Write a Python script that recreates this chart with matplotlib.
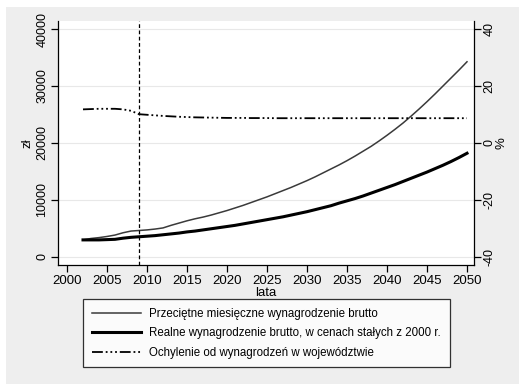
"""Wynagrodzenia brutto - prognoza do 2050 r. (odtworzenie wykresu Stata)."""
import matplotlib
matplotlib.use("Agg")
import matplotlib.pyplot as plt
from matplotlib.patches import Rectangle
from matplotlib.lines import Line2D

plt.rcParams["font.family"] = ["Liberation Sans", "DejaVu Sans"]
plt.rcParams["axes.unicode_minus"] = False

# dane
lata = list(range(2002, 2051))
nominalne = [
    3000, 3250, 3400, 3600, 3850, 4250, 4550, 4650, 4750, 4900,
    5100, 5550, 5950, 6350, 6700, 7000, 7350, 7750, 8150, 8600,
    9050, 9550, 10050, 10550, 11100, 11650, 12200, 12800, 13400, 14050,
    14750, 15450, 16150, 16900, 17700, 18550, 19400, 20350, 21350, 22400,
    23500, 24700, 25950, 27250, 28600, 30000, 31400, 32800, 34250,
]
realne = [
    3000, 3000, 3000, 3050, 3100, 3300, 3450, 3550, 3650, 3750,
    3900, 4050, 4200, 4400, 4550, 4750, 4950, 5150, 5350, 5550,
    5800, 6050, 6300, 6550, 6800, 7050, 7350, 7650, 7950, 8300,
    8650, 9000, 9450, 9850, 10250, 10700, 11200, 11700, 12200, 12700,
    13250, 13800, 14350, 14900, 15500, 16100, 16750, 17450, 18200,
]
odchylenie = [
    11.8, 11.9, 12.0, 12.0, 12.0, 11.8, 11.3, 10.1, 9.9, 9.7,
    9.5, 9.35, 9.2, 9.1, 9.0, 8.95, 8.9, 8.85, 8.8, 8.8,
    8.8, 8.75, 8.75, 8.75, 8.7, 8.7, 8.7, 8.7, 8.7, 8.7,
    8.7, 8.7, 8.7, 8.7, 8.7, 8.7, 8.7, 8.7, 8.7, 8.7,
    8.7, 8.7, 8.7, 8.7, 8.7, 8.7, 8.7, 8.7, 8.7,
]
rok_graniczny = 2009

x_ticks = list(range(2000, 2051, 5))
y_ticks = [0, 10000, 20000, 30000, 40000]
y2_ticks = [-40, -20, 0, 20, 40]

etykiety = [
    "Przeciętne miesięczne wynagrodzenie brutto",
    "Realne wynagrodzenie brutto, w cenach stałych z 2000 r.",
    "Ochylenie od wynagrodzeń w województwie",
]

W, H = 519, 384
fig = plt.figure(figsize=(W / 100, H / 100), dpi=100, facecolor="white")
# szare tło jak w Stata (z białym paskiem u góry i po lewej)
fig.add_artist(Rectangle((6 / W, 0), 1, (H - 7) / H, transform=fig.transFigure,
                         facecolor="#eeeeee", edgecolor="none", zorder=-10))

ax = fig.add_axes([58 / W, (H - 265) / H, 416 / W, 244 / H])
ax.set_facecolor("white")
ax2 = ax.twinx()

dash_dot3 = (0, (6, 1.6, 1, 1.6, 1, 1.6, 1, 1.6))

ax.plot(lata, nominalne, color="#3a3a3a", lw=1.1, zorder=3)
ax.plot(lata, realne, color="black", lw=2.2, zorder=3)
ax2.plot(lata, odchylenie, color="black", lw=1.3, linestyle=dash_dot3, zorder=3)
ax.axvline(rok_graniczny, color="black", lw=0.9, linestyle=(0, (3, 2)), zorder=4)

ax.set_xlim(1998.875, 2050.875)
ax.set_ylim(-1404, 41404)
ax2.set_ylim(-42.8, 42.8)

ax.set_xticks(x_ticks)
ax.set_yticks(y_ticks)
ax2.set_yticks(y2_ticks)
ax.grid(axis="y", color="#e8e8e8", lw=0.8, zorder=0)
ax.set_axisbelow(True)

for a in (ax, ax2):
    a.spines["top"].set_visible(False)
    for s in a.spines.values():
        s.set_linewidth(0.9)
ax.spines["right"].set_visible(False)
ax2.spines["left"].set_visible(False)
ax2.spines["bottom"].set_visible(False)

ax.tick_params(axis="x", labelsize=9.5, length=5, width=0.9, pad=2)
ax.tick_params(axis="y", labelsize=9, length=5, width=0.9, pad=2)
ax2.tick_params(axis="y", labelsize=9, length=5, width=0.9, pad=2)
for lbl in ax.get_yticklabels():
    lbl.set_rotation(90)
    lbl.set_va("center")
for lbl in ax2.get_yticklabels():
    lbl.set_rotation(90)
    lbl.set_va("center")

ax.set_xlabel("lata", fontsize=9.5, labelpad=0)
ax.set_ylabel("zł", fontsize=9.5, labelpad=2)
ax2.set_ylabel("%", fontsize=9.5, labelpad=0, rotation=90)

uchwyty = [
    Line2D([], [], color="#3a3a3a", lw=1.1),
    Line2D([], [], color="black", lw=2.2),
    Line2D([], [], color="black", lw=1.3, linestyle=dash_dot3),
]
leg = fig.legend(uchwyty, etykiety, loc="upper left",
                 bbox_to_anchor=(83 / W, (H - 299) / H), fontsize=8.3,
                 frameon=True, fancybox=False, handlelength=4.3,
                 handletextpad=0.7, labelspacing=0.65, borderpad=0.75,
                 borderaxespad=0)
leg.get_frame().set_edgecolor("black")
leg.get_frame().set_linewidth(0.9)
leg.get_frame().set_facecolor("white")

fig.savefig("out.png", dpi=100, facecolor=fig.get_facecolor())
